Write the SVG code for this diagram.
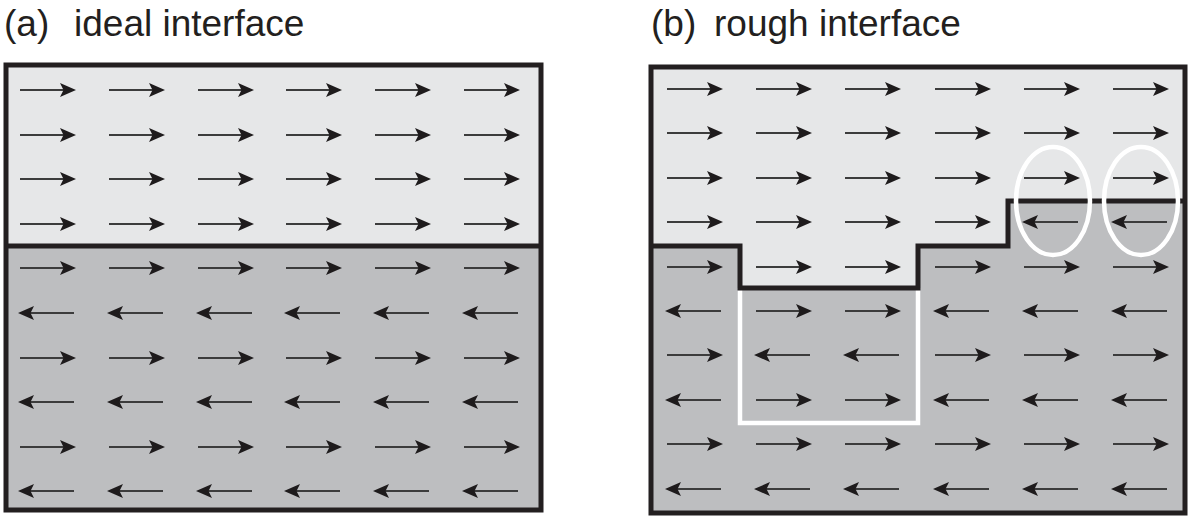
<svg xmlns="http://www.w3.org/2000/svg" xmlns:xlink="http://www.w3.org/1999/xlink" width="1194" height="520" viewBox="0 0 1194 520">
<style>
.lbl{font-family:"Liberation Sans",Arial,sans-serif;font-size:37px;fill:#231f20}
.frame{fill:none;stroke:#231f20;stroke-width:5}
.light{fill:#e6e7e8}
.dark{fill:#bdbec0}
.iface{fill:none;stroke:#231f20;stroke-width:5;stroke-linejoin:miter}
.wht{fill:none;stroke:#ffffff;stroke-width:4.5}
.shaft{stroke:#3c3c3c;stroke-width:2.2}
.head{fill:#1e1b1c}
</style>
<defs>
<g id="ar"><line class="shaft" x1="0" y1="0" x2="44" y2="0"/><path class="head" d="M56,0 L40,-7 L43.5,0 L40,7 Z"/></g>
<g id="al"><line class="shaft" x1="10" y1="0" x2="54" y2="0"/><path class="head" d="M-2,0 L14,-7 L10.5,0 L14,7 Z"/></g>
</defs>
<rect width="1194" height="520" fill="#ffffff"/>
<g id="labels">
<text class="lbl" y="36"><tspan x="4">(a)</tspan><tspan x="74">ideal interface</tspan></text>
<text class="lbl" y="36"><tspan x="651">(b)</tspan><tspan x="714">rough interface</tspan></text>
</g>
<g id="panel-a">
<rect class="light" x="6" y="65" width="535" height="181"/>
<rect class="dark" x="6" y="246" width="535" height="264"/>
<line class="iface" x1="6" y1="246" x2="541" y2="246"/>
<rect class="frame" x="6" y="65" width="535" height="445"/>
</g>
<g id="panel-b">
<rect class="dark" x="651" y="67" width="534" height="446"/>
<polygon class="light" points="651,67 1185,67 1185,201 1008,201 1008,246 918,246 918,288 740,288 740,246 651,246"/>
<polyline class="wht" points="740,288 740,423 918,423 918,288"/>
<polyline class="iface" points="651,246 740,246 740,288 918,288 918,246 1008,246 1008,201 1185,201"/>
<rect class="frame" x="651" y="67" width="534" height="446"/>
</g>
<g id="arrows-a">
<use href="#ar" x="20" y="90"/><use href="#ar" x="109" y="90"/><use href="#ar" x="198" y="90"/><use href="#ar" x="286" y="90"/><use href="#ar" x="375" y="90"/><use href="#ar" x="464" y="90"/>
<use href="#ar" x="20" y="135"/><use href="#ar" x="109" y="135"/><use href="#ar" x="198" y="135"/><use href="#ar" x="286" y="135"/><use href="#ar" x="375" y="135"/><use href="#ar" x="464" y="135"/>
<use href="#ar" x="20" y="179"/><use href="#ar" x="109" y="179"/><use href="#ar" x="198" y="179"/><use href="#ar" x="286" y="179"/><use href="#ar" x="375" y="179"/><use href="#ar" x="464" y="179"/>
<use href="#ar" x="20" y="224"/><use href="#ar" x="109" y="224"/><use href="#ar" x="198" y="224"/><use href="#ar" x="286" y="224"/><use href="#ar" x="375" y="224"/><use href="#ar" x="464" y="224"/>
<use href="#ar" x="20" y="268"/><use href="#ar" x="109" y="268"/><use href="#ar" x="198" y="268"/><use href="#ar" x="286" y="268"/><use href="#ar" x="375" y="268"/><use href="#ar" x="464" y="268"/>
<use href="#al" x="20" y="313"/><use href="#al" x="109" y="313"/><use href="#al" x="198" y="313"/><use href="#al" x="286" y="313"/><use href="#al" x="375" y="313"/><use href="#al" x="464" y="313"/>
<use href="#ar" x="20" y="358"/><use href="#ar" x="109" y="358"/><use href="#ar" x="198" y="358"/><use href="#ar" x="286" y="358"/><use href="#ar" x="375" y="358"/><use href="#ar" x="464" y="358"/>
<use href="#al" x="20" y="402"/><use href="#al" x="109" y="402"/><use href="#al" x="198" y="402"/><use href="#al" x="286" y="402"/><use href="#al" x="375" y="402"/><use href="#al" x="464" y="402"/>
<use href="#ar" x="20" y="447"/><use href="#ar" x="109" y="447"/><use href="#ar" x="198" y="447"/><use href="#ar" x="286" y="447"/><use href="#ar" x="375" y="447"/><use href="#ar" x="464" y="447"/>
<use href="#al" x="20" y="491"/><use href="#al" x="109" y="491"/><use href="#al" x="198" y="491"/><use href="#al" x="286" y="491"/><use href="#al" x="375" y="491"/><use href="#al" x="464" y="491"/>
</g>
<g id="arrows-b">
<use href="#ar" x="667" y="89"/><use href="#ar" x="756" y="89"/><use href="#ar" x="845" y="89"/><use href="#ar" x="935" y="89"/><use href="#ar" x="1024" y="89"/><use href="#ar" x="1113" y="89"/>
<use href="#ar" x="667" y="133"/><use href="#ar" x="756" y="133"/><use href="#ar" x="845" y="133"/><use href="#ar" x="935" y="133"/><use href="#ar" x="1024" y="133"/><use href="#ar" x="1113" y="133"/>
<use href="#ar" x="667" y="178"/><use href="#ar" x="756" y="178"/><use href="#ar" x="845" y="178"/><use href="#ar" x="935" y="178"/><use href="#ar" x="1024" y="178"/><use href="#ar" x="1113" y="178"/>
<use href="#ar" x="667" y="222"/><use href="#ar" x="756" y="222"/><use href="#ar" x="845" y="222"/><use href="#ar" x="935" y="222"/><use href="#al" x="1024" y="222"/><use href="#al" x="1113" y="222"/>
<use href="#ar" x="667" y="267"/><use href="#ar" x="756" y="267"/><use href="#ar" x="845" y="267"/><use href="#ar" x="935" y="267"/><use href="#ar" x="1024" y="267"/><use href="#ar" x="1113" y="267"/>
<use href="#al" x="667" y="311"/><use href="#ar" x="756" y="311"/><use href="#ar" x="845" y="311"/><use href="#al" x="935" y="311"/><use href="#al" x="1024" y="311"/><use href="#al" x="1113" y="311"/>
<use href="#ar" x="667" y="355"/><use href="#al" x="756" y="355"/><use href="#al" x="845" y="355"/><use href="#ar" x="935" y="355"/><use href="#ar" x="1024" y="355"/><use href="#ar" x="1113" y="355"/>
<use href="#al" x="667" y="400"/><use href="#ar" x="756" y="400"/><use href="#ar" x="845" y="400"/><use href="#al" x="935" y="400"/><use href="#al" x="1024" y="400"/><use href="#al" x="1113" y="400"/>
<use href="#ar" x="667" y="444"/><use href="#ar" x="756" y="444"/><use href="#ar" x="845" y="444"/><use href="#ar" x="935" y="444"/><use href="#ar" x="1024" y="444"/><use href="#ar" x="1113" y="444"/>
<use href="#al" x="667" y="489"/><use href="#al" x="756" y="489"/><use href="#al" x="845" y="489"/><use href="#al" x="935" y="489"/><use href="#al" x="1024" y="489"/><use href="#al" x="1113" y="489"/>
</g>
<g id="highlights">
<ellipse class="wht" cx="1053" cy="201" rx="37" ry="54"/>
<ellipse class="wht" cx="1141" cy="201" rx="37" ry="54"/>
</g>
</svg>
